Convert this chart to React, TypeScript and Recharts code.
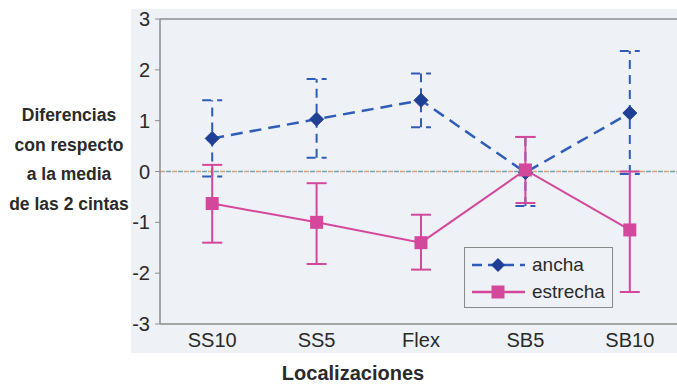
import React from 'react';
import { LineChart, Line, XAxis, YAxis, ErrorBar, ReferenceLine, Legend } from 'recharts';

const categories = ['SS10', 'SS5', 'Flex', 'SB5', 'SB10'];
const ancha = [0.65, 1.03, 1.4, -0.02, 1.15];
const anchaHigh = [1.4, 1.82, 1.93, 0.68, 2.37];
const anchaLow = [-0.1, 0.27, 0.87, -0.68, -0.05];
const estrecha = [-0.63, -1.0, -1.4, 0.03, -1.15];
const estrechaHigh = [0.13, -0.23, -0.85, 0.68, 0.0];
const estrechaLow = [-1.4, -1.82, -1.93, -0.62, -2.37];
const yTicks = [-3, -2, -1, 0, 1, 2, 3];
const yLabelLines = ['Diferencias', 'con respecto', 'a la media', 'de las 2 cintas'];

const data = categories.map((c, i) => ({
  cat: c,
  ancha: ancha[i],
  anchaErr: [ancha[i] - anchaLow[i], anchaHigh[i] - ancha[i]],
  estrecha: estrecha[i],
  estrechaErr: [estrecha[i] - estrechaLow[i], estrechaHigh[i] - estrecha[i]],
}));

const BLUE_LINE = '#2f5cb8';
const BLUE_MARK = '#1f3f96';
const PINK = '#d4489c';
const FONT = '"Liberation Sans", Arial, sans-serif';
const TXT = '#2a2a2a';

const Diamond = (props: any) => {
  const { cx, cy } = props;
  if (cx == null || cy == null) return null;
  return <path d={`M${cx},${cy - 7} L${cx + 7},${cy} L${cx},${cy + 7} L${cx - 7},${cy} Z`} fill={BLUE_MARK} stroke={BLUE_MARK} strokeWidth={1} />;
};

const Square = (props: any) => {
  const { cx, cy } = props;
  if (cx == null || cy == null) return null;
  return <rect x={cx - 6.5} y={cy - 6.5} width={13} height={13} fill={PINK} />;
};

const LegendBox = (props: any) => {
  const payload = props.payload || [];
  return (
    <div style={{ width: 149, height: 61, border: '1.5px solid #8a8a8a', boxSizing: 'border-box', fontFamily: FONT, fontSize: 19, color: TXT, padding: '3px 0 0 6px', lineHeight: '27px' }}>
      {payload.map((p: any) => {
        const isA = p.dataKey === 'ancha';
        return (
          <div key={p.value} style={{ display: 'flex', alignItems: 'center', height: 27 }}>
            <svg width={56} height={20} style={{ marginRight: 5, flex: 'none' }}>
              <line x1={1} y1={10} x2={54} y2={10} stroke={isA ? BLUE_LINE : PINK} strokeWidth={2.5} strokeDasharray={isA ? '10 6' : undefined} />
              {isA ? (
                <path d="M27,3 L34,10 L27,17 L20,10 Z" fill={BLUE_MARK} />
              ) : (
                <rect x={20.5} y={3.5} width={13} height={13} fill={PINK} />
              )}
            </svg>
            <span>{p.value}</span>
          </div>
        );
      })}
    </div>
  );
};

const YLabel = () => (
  <g>
    {yLabelLines.map((t, i) => (
      <text key={t} x={69} y={121 + i * 29.5} textAnchor="middle" fontFamily={FONT} fontWeight="bold" fontSize={17.5} fill={TXT}>
        {t}
      </text>
    ))}
  </g>
);

const XLabel = () => (
  <text x={353} y={380} textAnchor="middle" fontFamily={FONT} fontWeight="bold" fontSize={20} fill={TXT}>
    Localizaciones
  </text>
);

export default function App() {
  return (
    <div style={{ position: 'absolute', left: 0, top: 0, width: 677, height: 385, overflow: 'hidden', background: '#ffffff' }}>
      <div style={{ position: 'absolute', left: 131, top: 9, width: 546, height: 344, background: '#eef1f5' }} />
      <div style={{ position: 'absolute', left: 0, top: 0 }}>
        <LineChart width={690} height={385} data={data} margin={{ top: 19, right: 8, left: 0, bottom: 31 }}>
          <XAxis
            dataKey="cat"
            scale="band"
            tickLine={false}
            tickSize={0}
            tickMargin={9}
            axisLine={{ stroke: '#8c8c8c', strokeWidth: 1.5 }}
            tick={{ fontFamily: FONT, fontSize: 20, fill: TXT }}
            height={30}
            label={{ content: () => <XLabel /> }}
          />
          <YAxis
            type="number"
            domain={[-3, 3]}
            ticks={yTicks}
            interval={0}
            width={160}
            tickSize={5}
            tickMargin={5}
            axisLine={{ stroke: '#8c8c8c', strokeWidth: 1.5 }}
            tickLine={{ stroke: '#8c8c8c' }}
            tick={{ fontFamily: FONT, fontSize: 20, fill: TXT }}
            label={{ content: () => <YLabel /> }}
          />
          <ReferenceLine y={3} stroke="#8c8c8c" strokeWidth={1.5} />
          <ReferenceLine y={0} stroke="#d4a27c" strokeWidth={1.5} strokeDasharray="5 7" />
          <ReferenceLine y={0} stroke="#6aa9b0" strokeWidth={1.5} strokeDasharray="5 7" strokeDashoffset={6} />
          <Line
            dataKey="ancha"
            name="ancha"
            stroke={BLUE_LINE}
            strokeWidth={2.5}
            strokeDasharray="12 7"
            dot={<Diamond />}
            activeDot={false}
            isAnimationActive={false}
          >
            <ErrorBar dataKey="anchaErr" width={10} stroke={BLUE_LINE} strokeWidth={2} strokeDasharray="9 6" />
          </Line>
          <Line
            dataKey="estrecha"
            name="estrecha"
            stroke={PINK}
            strokeWidth={2}
            dot={<Square />}
            activeDot={false}
            isAnimationActive={false}
          >
            <ErrorBar dataKey="estrechaErr" width={10} stroke={PINK} strokeWidth={2} />
          </Line>
          <Legend
            layout="horizontal"
            verticalAlign="middle"
            align="center"
            content={<LegendBox />}
            wrapperStyle={{ position: 'absolute', left: 464, top: 247, width: 150, height: 61, bottom: 'auto', right: 'auto' }}
          />
        </LineChart>
      </div>
    </div>
  );
}
